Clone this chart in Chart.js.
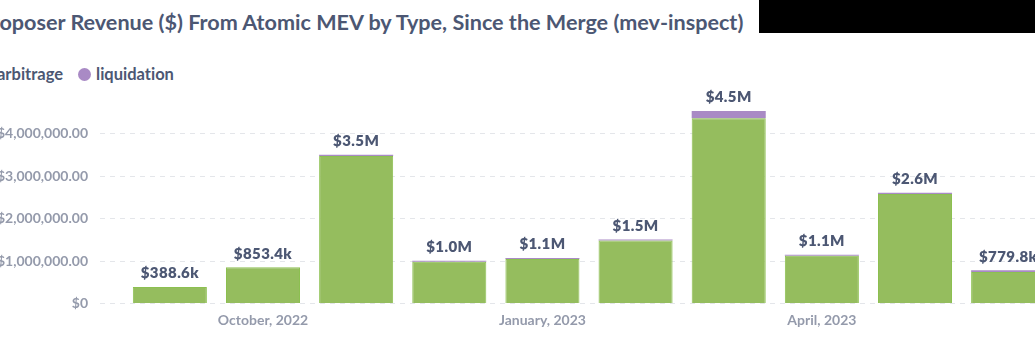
<!DOCTYPE html>
<html>
<head>
<meta charset="utf-8">
<script src="https://cdn.jsdelivr.net/npm/chart.js@4.4.1/dist/chart.umd.min.js"></script>
<style>
  html, body { margin:0; padding:0; width:1035px; height:345px; overflow:hidden; background:#fff; position:relative; font-family:Lato, sans-serif; font-variant-ligatures:none; }
  #title { position:absolute; left:-21.5px; top:7px; font-size:21.6px; font-weight:700; color:#4C5773; white-space:nowrap; line-height:30px; }
  #legend { position:absolute; left:-21px; top:64px; display:flex; align-items:center; white-space:nowrap; font-size:16.5px; font-weight:700; color:#4C5773; line-height:20px; }
  #legend .item { display:flex; align-items:center; margin-right:15px; }
  #legend .dot { width:13px; height:13px; border-radius:50%; margin-right:5px; }
  #redact { position:absolute; left:759px; top:0; width:276px; height:33px; background:#000; }
  #wrap { position:absolute; left:-40px; top:0; width:1128px; height:345px; }
</style>
</head>
<body>
<div id="title">Proposer Revenue ($) From Atomic MEV by Type, Since the Merge (mev-inspect)</div>
<div id="legend"></div>
<div id="wrap"><canvas id="c" width="1128" height="345"></canvas></div>
<div id="redact"></div>
<script>
const categories = ['September, 2022','October, 2022','November, 2022','December, 2022','January, 2023','February, 2023','March, 2023','April, 2023','May, 2023','June, 2023'];
const arbitrage   = [388000, 852000, 3470000, 985000, 1045000, 1480000, 4360000, 1125000, 2580000, 740000];
const liquidation = [600, 1400, 30000, 20000, 25000, 25000, 170000, 20000, 25000, 39800];
const xTickLabels = ['October, 2022','January, 2023','April, 2023'];
const yTickValues = [0, 1000000, 2000000, 3000000, 4000000];
const seriesNames = ['arbitrage', 'liquidation'];
const seriesColors = ['#95BD5E', '#A98AC5'];

function fmtTick(v) {
  if (v === 0) return '$0';
  return '$' + v.toLocaleString('en-US', {minimumFractionDigits:2, maximumFractionDigits:2});
}
function fmtTotal(v) {
  if (v >= 1e6) return '$' + (v/1e6).toFixed(1) + 'M';
  return '$' + (v/1e3).toFixed(1) + 'k';
}

// legend
const leg = document.getElementById('legend');
seriesNames.forEach((n, i) => {
  const it = document.createElement('span'); it.className = 'item';
  const d = document.createElement('span'); d.className = 'dot'; d.style.background = seriesColors[i];
  const t = document.createElement('span'); t.textContent = n;
  it.appendChild(d); it.appendChild(t); leg.appendChild(it);
});

const totalsPlugin = {
  id: 'totals',
  afterDatasetsDraw(chart) {
    const ctx = chart.ctx;
    const m0 = chart.getDatasetMeta(0), m1 = chart.getDatasetMeta(1);
    ctx.save();
    ctx.font = '800 15px Lato';
    ctx.fillStyle = '#4C5773';
    ctx.textAlign = 'center';
    ctx.textBaseline = 'middle';
    try { ctx.letterSpacing = '0.4px'; } catch(e) {}
    categories.forEach((c, i) => {
      const a = m0.data[i], b = m1.data[i];
      const top = Math.min(a.y, b.y);
      ctx.fillText(fmtTotal(arbitrage[i] + liquidation[i]), a.x, top - 13.5);
    });
    ctx.restore();
  }
};

function build() {
  const tickFont = {family:'Lato', size:14, weight:'700'};
  new Chart(document.getElementById('c'), {
    type: 'bar',
    data: {
      datasets: [
        { label: seriesNames[0], data: arbitrage.map((v,i)=>({x:i, y:v})), backgroundColor: seriesColors[0], borderColor: '#8CC050', borderWidth: 1, barPercentage: 0.795, categoryPercentage: 1 },
        { label: seriesNames[1], data: liquidation.map((v,i)=>({x:i, y:v})), backgroundColor: seriesColors[1], borderColor: seriesColors[1], borderWidth: 0, barPercentage: 0.795, categoryPercentage: 1 }
      ]
    },
    options: {
      responsive: false,
      animation: false,
      layout: { padding: { top: 100, right: 10, left: 0, bottom: 0 } },
      plugins: { legend: { display:false }, title: { display:false }, tooltip: { enabled:false } },
      scales: {
        x: {
          type: 'linear', stacked: true, min: -0.75, max: 9.75, offset: false,
          grid: { display:false, drawTicks:false, offset:false },
          border: { display:false },
          afterBuildTicks(s) { s.ticks = categories.map((c,i)=>({value:i})).filter(t => xTickLabels.includes(categories[t.value])); },
          ticks: { callback: v => categories[v], font: tickFont, color:'#949AAB', padding: 9, maxRotation:0, autoSkip:false },
          afterFit(s) { s.height = 41.5; }
        },
        y: {
          stacked: true, min: 0, max: 4790000,
          afterBuildTicks(s) { s.ticks = yTickValues.map(v=>({value:v})); },
          grid: { color:'#E4E6EA', drawTicks:false },
          border: { display:false, dash:[5,5] },
          ticks: { callback: v => fmtTick(v), font: tickFont, color:'#949AAB', padding: 12 },
          afterFit(s) { s.width = 140; }
        }
      }
    },
    plugins: [totalsPlugin]
  });
}
Promise.all([
  document.fonts.load('700 14px Lato'),
  document.fonts.load('800 15px Lato'),
  document.fonts.load('700 20px Lato')
]).then(build, build);
</script>
</body>
</html>
